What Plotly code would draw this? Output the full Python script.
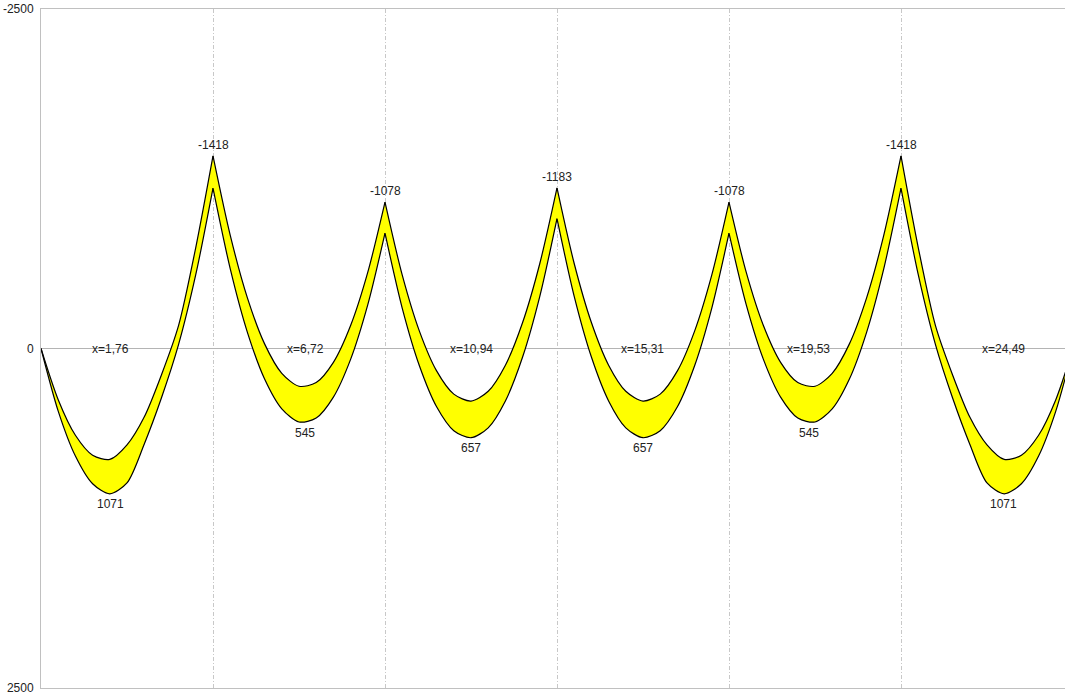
import numpy as np
import plotly.graph_objects as go

# ---- data ----
span_length = 4.375
n_spans = 6
seg_per_span = 10

supports_x = [0.0, 4.375, 8.75, 13.125, 17.5, 21.875, 26.25]

# envelope, upper bound (positive sagging maxima)
m_max = [
    0, 461, 792, 996, 1070, 990, 705, 365, -30, -545,
    -1181, -588, -119, 225, 445, 541, 512, 358, 80, -323,
    -849, -298, 127, 429, 605, 657, 584, 386, 63, -384,
    -956, -384, 63, 386, 584, 657, 605, 429, 127, -298,
    -849, -323, 80, 358, 512, 541, 445, 225, -119, -588,
    -1181, -545, -30, 365, 705, 990, 1070, 996, 792, 461, 0,
]
# envelope, lower bound (hogging minima)
m_min = [
    0, 377, 639, 786, 817, 710, 505, 195, -170, -745,
    -1418, -835, -373, -34, 183, 278, 251, 102, -169, -562,
    -1078, -542, -128, 165, 336, 387, 315, 123, -191, -626,
    -1183, -626, -191, 123, 315, 387, 336, 165, -128, -542,
    -1078, -562, -169, 102, 251, 278, 183, -34, -373, -835,
    -1418, -745, -170, 195, 505, 710, 817, 786, 639, 377, 0,
]
stations = list(np.linspace(0, span_length * n_spans, n_spans * seg_per_span + 1))

span_ext_x = [1.76, 6.72, 10.94, 15.31, 19.53, 24.49]
span_ext_val = [1071, 545, 657, 657, 545, 1071]

support_lbl_x = [4.375, 8.75, 13.125, 17.5, 21.875]
support_lbl_val = [-1418, -1078, -1183, -1078, -1418]

y_ticks = [-2500, 0, 2500]
y_tick_text = ["-2500", "0", "2500"]

# ---- figure ----
fig = go.Figure()
for s in range(n_spans):
    a = s * seg_per_span
    b = a + seg_per_span + 1
    fig.add_trace(go.Scatter(x=stations[a:b], y=m_max[a:b], mode="lines",
                             line=dict(color="black", width=1.2, shape="spline",
                                       smoothing=0.8),
                             hoverinfo="skip", showlegend=False))
    fig.add_trace(go.Scatter(x=stations[a:b], y=m_min[a:b], mode="lines",
                             line=dict(color="black", width=1.2, shape="spline",
                                       smoothing=0.8),
                             fill="tonexty", fillcolor="#ffff00",
                             hoverinfo="skip", showlegend=False))

font = dict(family="Liberation Sans, Arial, sans-serif", size=12, color="#222222")
ann = []
for x, v in zip(span_ext_x, span_ext_val):
    ann.append(dict(x=x, y=v, text=str(v), showarrow=False, yanchor="middle",
                    yshift=-10, font=font))
    ann.append(dict(x=x, y=0, text="x=" + f"{x:.2f}".replace(".", ","),
                    showarrow=False, yanchor="middle", font=font))
for x, v in zip(support_lbl_x, support_lbl_val):
    ann.append(dict(x=x, y=v, text=str(v), showarrow=False, yanchor="middle",
                    yshift=11, font=font))

fig.update_layout(
    width=1065, height=697,
    margin=dict(l=41, r=0, t=9, b=9),
    paper_bgcolor="white", plot_bgcolor="white",
    annotations=ann,
    hovermode=False,
    xaxis=dict(range=[0, 1024 / (172 / span_length)],
               tickvals=supports_x[1:-1], showticklabels=False, ticks="",
               showgrid=True, gridcolor="#c8c8c8", griddash="4px,2px,1px,2px",
               gridwidth=1,
               zeroline=False, showline=True, mirror=True, linecolor="#c0c0c0",
               linewidth=1),
    yaxis=dict(range=[2500, -2500], tickvals=y_ticks, ticktext=y_tick_text,
               showgrid=False, zeroline=True, zerolinecolor="#b4b4b4",
               zerolinewidth=1, showline=True, linecolor="#c0c0c0", linewidth=1,
               ticks="", tickfont=font, ticklabelstandoff=4),
)

fig.write_html("out.html", config={"displayModeBar": False},
               post_script="document.body.style.margin='0';")
